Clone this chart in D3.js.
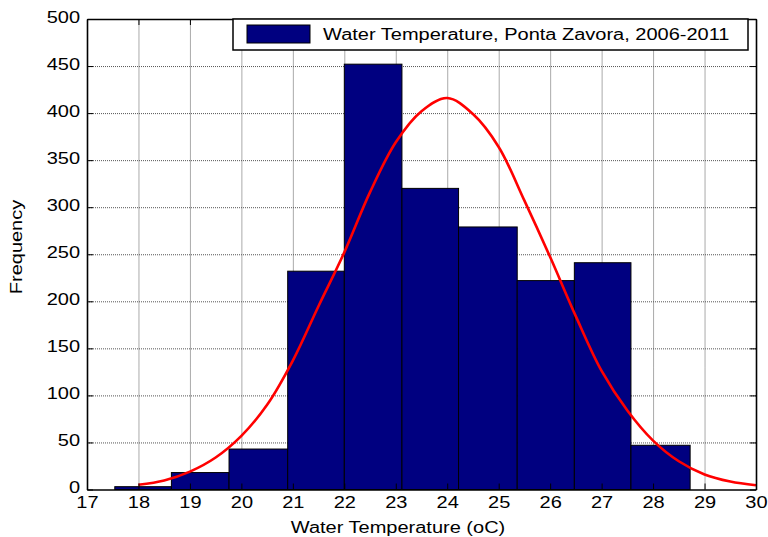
<!DOCTYPE html>
<html>
<head>
<meta charset="utf-8">
<script src="https://cdn.jsdelivr.net/npm/d3@7"></script>
<style>
  body { margin: 0; background: #fff; }
  text { font-family: "Liberation Sans", Arial, Helvetica, sans-serif; font-size: 16px; fill: #000; }
</style>
</head>
<body>
<svg id="chart" width="768" height="537"></svg>
<script>
// Histogram bins (edges in °C) and their counts
const binEdges = [17.54, 18.64, 19.76, 20.90, 22.00, 23.12, 24.22, 25.36, 26.47, 27.57, 28.72];
const binCounts = [3, 18, 43, 232, 452, 320, 279, 222, 241, 47];

// Fitted distribution curve, sampled along the temperature axis
const fitTemps = [18, 18.5, 19, 19.5, 20, 20.5, 21, 21.5, 22, 22.5, 23, 23.5, 24,
                  24.5, 25, 25.5, 26, 26.5, 27, 27.5, 28, 28.5, 29, 29.5, 30];
const fitFreqs = [5, 9.6, 19, 34, 57, 90, 137, 195, 252, 316, 369, 402, 416,
                  399, 364, 307, 247, 184, 126, 84, 52, 30, 16, 8.5, 4.5];

// Axis ticks
const xTickValues = [17, 18, 19, 20, 21, 22, 23, 24, 25, 26, 27, 28, 29, 30];
const yTickValues = [0, 50, 100, 150, 200, 250, 300, 350, 400, 450, 500];

const legendLabel = "Water Temperature, Ponta Zavora, 2006-2011";
const xAxisLabel = "Water Temperature (oC)";
const yAxisLabel = "Frequency";

// Layout
const plotLeft = 87, plotTop = 19, plotRight = 756, plotBottom = 489.5;
const W = plotRight - plotLeft, H = plotBottom - plotTop;
const stretch = 1.25; // wide typeface proportions

const svg = d3.select("#chart");
const g = svg.append("g").attr("transform", `translate(${plotLeft},${plotTop})`);

const x = d3.scaleLinear().domain([17, 30]).range([0, W]);
const y = d3.scaleLinear().domain([0, 500]).range([H, 0]);

// Dotted grid
const gridStyle = sel => {
  sel.select(".domain").remove();
  sel.selectAll("text").remove();
  sel.selectAll("line").attr("stroke", "#555").attr("stroke-width", 1).attr("stroke-dasharray", "1,1");
};
g.append("g")
  .attr("transform", `translate(0,${H})`)
  .call(d3.axisBottom(x).tickValues(xTickValues.slice(1, -1)).tickSize(-H).tickFormat(""))
  .call(gridStyle);
g.append("g")
  .call(d3.axisLeft(y).tickValues(yTickValues.slice(1, -1)).tickSize(-W).tickFormat(""))
  .call(gridStyle);

// Bars
const bins = binCounts.map((c, i) => ({ x0: binEdges[i], x1: binEdges[i + 1], count: c }));
g.append("g").selectAll("rect")
  .data(bins)
  .join("rect")
  .attr("x", d => x(d.x0))
  .attr("y", d => y(d.count))
  .attr("width", d => x(d.x1) - x(d.x0))
  .attr("height", d => y(0) - y(d.count))
  .attr("fill", "#000080")
  .attr("stroke", "#000")
  .attr("stroke-width", 1);

// Fitted curve
const line = d3.line()
  .x(d => x(d[0]))
  .y(d => y(d[1]))
  .curve(d3.curveCatmullRom.alpha(0.5));
g.append("path")
  .datum(fitTemps.map((t, i) => [t, fitFreqs[i]]))
  .attr("d", line)
  .attr("fill", "none")
  .attr("stroke", "#ff0000")
  .attr("stroke-width", 2.6)
  .attr("stroke-linejoin", "round");

// Axes with inward ticks on all four sides
const axisStyle = sel => {
  sel.select(".domain").attr("stroke", "#000").attr("stroke-width", 1.6);
  sel.selectAll(".tick line").attr("stroke", "#000").attr("stroke-width", 1);
  sel.attr("font-family", null).attr("font-size", null);
};

const xAxis = g.append("g")
  .attr("transform", `translate(0,${H})`)
  .call(d3.axisBottom(x).tickValues(xTickValues).tickSize(-6).tickSizeOuter(0).tickPadding(7.5).tickFormat(d3.format("d")))
  .call(axisStyle);
xAxis.selectAll("text").attr("transform", `scale(${stretch},1)`);

const yAxis = g.append("g")
  .call(d3.axisLeft(y).tickValues(yTickValues).tickSize(-6).tickSizeOuter(0).tickPadding(7).tickFormat(d3.format("d")))
  .call(axisStyle);
yAxis.selectAll("text")
  .attr("x", -7 / stretch)
  .attr("dy", "0.2em")
  .attr("transform", `scale(${stretch},1)`);

g.append("g")
  .call(d3.axisTop(x).tickValues(xTickValues).tickSize(-6).tickSizeOuter(0).tickFormat(""))
  .call(axisStyle);
g.append("g")
  .attr("transform", `translate(${W},0)`)
  .call(d3.axisRight(y).tickValues(yTickValues).tickSize(-6).tickSizeOuter(0).tickFormat(""))
  .call(axisStyle);

// Axis labels
svg.append("text")
  .attr("transform", `translate(398,533) scale(${stretch},1)`)
  .attr("text-anchor", "middle")
  .text(xAxisLabel);
svg.append("text")
  .attr("transform", `translate(22,247) rotate(-90) scale(${stretch},1)`)
  .attr("text-anchor", "middle")
  .text(yAxisLabel);

// Legend
const legend = svg.append("g");
legend.append("rect")
  .attr("x", 233).attr("y", 19).attr("width", 515).attr("height", 31)
  .attr("fill", "#fff").attr("stroke", "#000").attr("stroke-width", 1.5);
legend.append("rect")
  .attr("x", 247).attr("y", 25).attr("width", 63).attr("height", 18)
  .attr("fill", "#000080").attr("stroke", "#000").attr("stroke-width", 1);
legend.append("text")
  .attr("transform", `translate(323,40) scale(${stretch},1)`)
  .text(legendLabel);
</script>
</body>
</html>
